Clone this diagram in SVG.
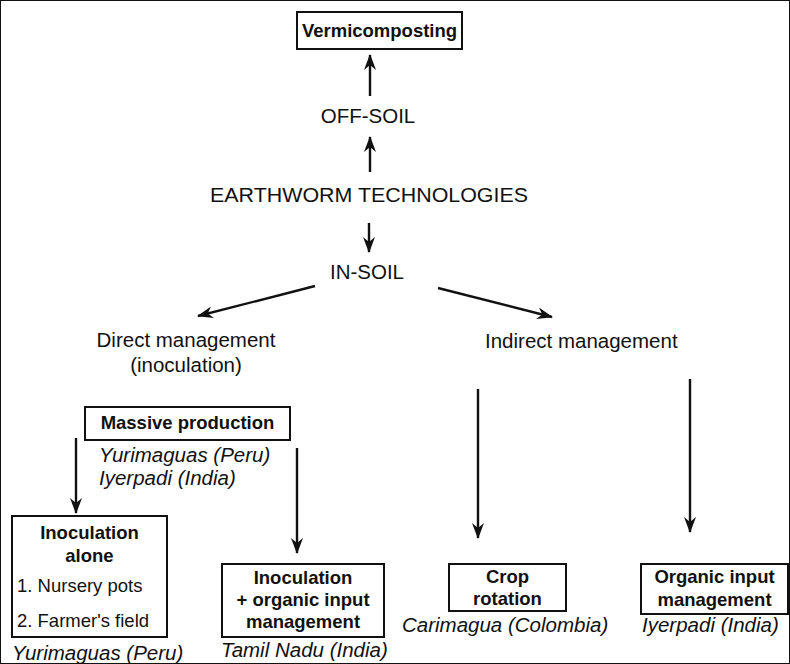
<svg xmlns="http://www.w3.org/2000/svg" width="790" height="664" viewBox="0 0 790 664">
<defs>
<style>
text{font-family:"Liberation Sans",Arial,sans-serif;fill:#111}
.t{font-size:20.5px}
.b{font-size:18.5px;font-weight:bold}
.i{font-size:20.5px;font-style:italic}
.n{font-size:18.5px}
rect{fill:#fff;stroke:#111;stroke-width:2}
.c line{stroke:#111;stroke-width:2.4}
</style>
<marker id="ah" viewBox="0 0 16 12" refX="15" refY="6" markerWidth="16" markerHeight="12" markerUnits="userSpaceOnUse" orient="auto">
<path d="M0,0 L16,6 L0,12 L5,6 Z" fill="#111"/>
</marker>
</defs>
<rect width="790" height="664" fill="#fff" stroke="none"/>
<g id="connectors" class="c">
<line x1="370" y1="96" x2="370" y2="55" marker-end="url(#ah)"/>
<line x1="370" y1="172" x2="370" y2="137" marker-end="url(#ah)"/>
<line x1="369" y1="223" x2="369" y2="252" marker-end="url(#ah)"/>
<line x1="315" y1="286" x2="198" y2="316" marker-end="url(#ah)"/>
<line x1="438" y1="288" x2="552" y2="317" marker-end="url(#ah)"/>
<line x1="76" y1="438" x2="76" y2="513" marker-end="url(#ah)"/>
<line x1="297" y1="448" x2="297" y2="553" marker-end="url(#ah)"/>
<line x1="478" y1="389" x2="478" y2="538" marker-end="url(#ah)"/>
<line x1="690" y1="379" x2="690" y2="532" marker-end="url(#ah)"/>
</g>
<g id="vermicomposting">
<rect x="297" y="12" width="165" height="37"/>
<text class="b" x="379.5" y="37" text-anchor="middle">Vermicomposting</text>
</g>
<g id="off-soil">
<text class="t" x="368" y="123" text-anchor="middle">OFF-SOIL</text>
</g>
<g id="earthworm-technologies">
<text class="t" x="369" y="202" text-anchor="middle" textLength="318" lengthAdjust="spacingAndGlyphs">EARTHWORM TECHNOLOGIES</text>
</g>
<g id="in-soil">
<text class="t" x="367" y="279" text-anchor="middle">IN-SOIL</text>
</g>
<g id="direct-management">
<text class="t" x="186" y="347" text-anchor="middle">Direct management</text>
<text class="t" x="186" y="372" text-anchor="middle">(inoculation)</text>
</g>
<g id="indirect-management">
<text class="t" x="485" y="348">Indirect management</text>
</g>
<g id="massive-production">
<rect x="85" y="407" width="205" height="33"/>
<text class="b" x="187.5" y="429" text-anchor="middle">Massive production</text>
<text class="i" x="99" y="462">Yurimaguas (Peru)</text>
<text class="i" x="99" y="485">Iyerpadi (India)</text>
</g>
<g id="inoculation-alone">
<rect x="12" y="516" width="155" height="121"/>
<text class="b" x="89.5" y="539" text-anchor="middle">Inoculation</text>
<text class="b" x="89.5" y="562" text-anchor="middle">alone</text>
<text class="n" x="17" y="592">1. Nursery pots</text>
<text class="n" x="17" y="627">2. Farmer's field</text>
<text class="i" x="12" y="660">Yurimaguas (Peru)</text>
</g>
<g id="inoculation-organic">
<rect x="222" y="564" width="162" height="73"/>
<text class="b" x="303" y="584" text-anchor="middle">Inoculation</text>
<text class="b" x="303" y="606" text-anchor="middle">+ organic input</text>
<text class="b" x="303" y="628" text-anchor="middle">management</text>
<text class="i" x="221" y="657">Tamil Nadu (India)</text>
</g>
<g id="crop-rotation">
<rect x="449" y="564" width="117" height="47"/>
<text class="b" x="507.5" y="583" text-anchor="middle">Crop</text>
<text class="b" x="507.5" y="605" text-anchor="middle">rotation</text>
<text class="i" x="402" y="632">Carimagua (Colombia)</text>
</g>
<g id="organic-input-management">
<rect x="641" y="564" width="147" height="50"/>
<text class="b" x="714.5" y="583" text-anchor="middle">Organic input</text>
<text class="b" x="714.5" y="606" text-anchor="middle">management</text>
<text class="i" x="642" y="632">Iyerpadi (India)</text>
</g>
</svg>
